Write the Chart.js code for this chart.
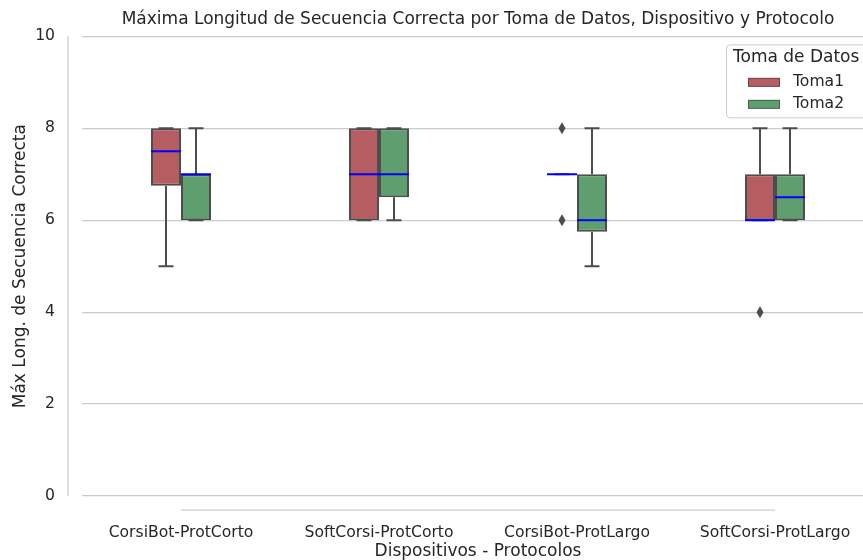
<!DOCTYPE html>
<html>
<head>
<meta charset="utf-8">
<script src="https://cdn.jsdelivr.net/npm/chart.js@4.4.0/dist/chart.umd.min.js"></script>
<style>
  html, body { margin: 0; padding: 0; background: #fff; overflow: hidden; }
  #wrap { position: relative; width: 874px; height: 560px; }
</style>
</head>
<body>
<div id="wrap"><canvas id="boxChart"></canvas></div>
<script>
// datos
const categories = ['CorsiBot-ProtCorto', 'SoftCorsi-ProtCorto', 'CorsiBot-ProtLargo', 'SoftCorsi-ProtLargo'];
const seriesLabels = ['Toma1', 'Toma2'];

const toma1Q1 = [6.75, 6, 7, 6];
const toma1Median = [7.5, 7, 7, 6];
const toma1Q3 = [8, 8, 7, 7];
const toma1Min = [5, 6, 7, 6];
const toma1Max = [8, 8, 7, 8];
const toma1Outliers = [[], [], [6, 8], [4]];

const toma2Q1 = [6, 6.5, 5.75, 6];
const toma2Median = [7, 7, 6, 6.5];
const toma2Q3 = [7, 8, 7, 7];
const toma2Min = [6, 6, 5, 6];
const toma2Max = [8, 8, 8, 8];
const toma2Outliers = [[], [], [], []];

const yTicks = [0, 2, 4, 6, 8, 10];

const FONT = '"DejaVu Sans", sans-serif';
const TEXT = '#262626';
const EDGE = '#4d4d4d';

const stats = [
    { min: toma1Min, max: toma1Max, median: toma1Median, outliers: toma1Outliers },
    { min: toma2Min, max: toma2Max, median: toma2Median, outliers: toma2Outliers }
];

// bigotes, medianas, atipicos y ejes "despine"
const boxExtras = {
    id: 'boxExtras',
    afterDatasetsDraw(chart) {
        const ctx = chart.ctx;
        const xs = chart.scales.x;
        const ys = chart.scales.y;
        const area = chart.chartArea;
        ctx.save();

        ctx.strokeStyle = '#cccccc';
        ctx.lineWidth = 1.25;
        ctx.beginPath();
        ctx.moveTo(area.left - 14, ys.getPixelForValue(yTicks[yTicks.length - 1]));
        ctx.lineTo(area.left - 14, ys.getPixelForValue(yTicks[0]));
        ctx.moveTo(xs.getPixelForValue(0), area.bottom + 14);
        ctx.lineTo(xs.getPixelForValue(categories.length - 1), area.bottom + 14);
        ctx.stroke();

        stats.forEach((s, di) => {
            const meta = chart.getDatasetMeta(di);
            const q = chart.data.datasets[di].data;
            meta.data.forEach((bar, i) => {
                const { x, width } = bar.getProps(['x', 'width'], true);
                const half = width / 2;
                const pMin = ys.getPixelForValue(s.min[i]);
                const pMax = ys.getPixelForValue(s.max[i]);
                const pQ1 = ys.getPixelForValue(q[i][0]);
                const pQ3 = ys.getPixelForValue(q[i][1]);

                ctx.strokeStyle = EDGE;
                ctx.lineWidth = 2;
                ctx.beginPath();
                ctx.moveTo(x, pQ3); ctx.lineTo(x, pMax);
                ctx.moveTo(x, pQ1); ctx.lineTo(x, pMin);
                ctx.moveTo(x - half / 2, pMax); ctx.lineTo(x + half / 2, pMax);
                ctx.moveTo(x - half / 2, pMin); ctx.lineTo(x + half / 2, pMin);
                ctx.stroke();

                // mediana
                const pMed = ys.getPixelForValue(s.median[i]);
                ctx.strokeStyle = '#0000ff';
                ctx.beginPath();
                ctx.moveTo(x - half, pMed); ctx.lineTo(x + half, pMed);
                ctx.stroke();

                // atipicos (diamante)
                ctx.fillStyle = EDGE;
                s.outliers[i].forEach(v => {
                    const py = ys.getPixelForValue(v);
                    ctx.beginPath();
                    ctx.moveTo(x, py - 6);
                    ctx.lineTo(x + 3.5, py);
                    ctx.lineTo(x, py + 6);
                    ctx.lineTo(x - 3.5, py);
                    ctx.closePath();
                    ctx.fill();
                });
            });
        });
        ctx.restore();
    }
};

// leyenda dentro del area, arriba a la derecha
const boxLegend = {
    id: 'boxLegend',
    afterDraw(chart) {
        const ctx = chart.ctx;
        const area = chart.chartArea;
        const left = area.left + 644;
        const top = area.top + 8;
        ctx.save();
        ctx.fillStyle = 'rgba(255,255,255,0.8)';
        ctx.strokeStyle = '#cccccc';
        ctx.lineWidth = 1;
        ctx.beginPath();
        ctx.roundRect(left + 0.5, top + 0.5, 170, 73, 4);
        ctx.fill();
        ctx.stroke();

        ctx.textBaseline = 'middle';
        ctx.textAlign = 'left';
        ctx.fillStyle = TEXT;
        ctx.font = '17px ' + FONT;
        ctx.fillText('Toma de Datos', left + 7, top + 13);

        ctx.font = '15.6px ' + FONT;
        chart.data.datasets.forEach((ds, i) => {
            const ry = top + 38 + i * 22;
            ctx.fillStyle = ds.backgroundColor;
            ctx.fillRect(left + 22, ry - 4.5, 32, 9);
            ctx.strokeStyle = 'rgba(60,60,60,0.6)';
            ctx.strokeRect(left + 22.5, ry - 4, 31, 8);
            ctx.fillStyle = TEXT;
            ctx.fillText(ds.label, left + 67, ry);
        });
        ctx.restore();
    }
};

new Chart(document.getElementById('boxChart'), {
    type: 'bar',
    data: {
        labels: categories,
        datasets: [
            {
                label: seriesLabels[0],
                data: toma1Q1.map((v, i) => [v, toma1Q3[i]]),
                backgroundColor: '#b55d60',
                borderColor: EDGE,
                borderWidth: 2,
                borderSkipped: false
            },
            {
                label: seriesLabels[1],
                data: toma2Q1.map((v, i) => [v, toma2Q3[i]]),
                backgroundColor: '#5f9e6e',
                borderColor: EDGE,
                borderWidth: 2,
                borderSkipped: false
            }
        ]
    },
    options: {
        responsive: true,
        maintainAspectRatio: false,
        animation: false,
        layout: { padding: 0 },
        categoryPercentage: 60 / 198,
        barPercentage: 1,
        plugins: {
            legend: { display: false },
            tooltip: { enabled: false },
            title: {
                display: true,
                fullSize: false,
                text: 'Máxima Longitud de Secuencia Correcta por Toma de Datos, Dispositivo y Protocolo',
                color: TEXT,
                font: { family: FONT, size: 17, weight: 'normal' },
                padding: { top: 6.8, bottom: 6.8 }
            }
        },
        scales: {
            x: {
                grid: { display: false },
                border: { display: false },
                ticks: { color: TEXT, font: { family: FONT, size: 15.6 }, padding: 20, maxRotation: 0 },
                title: {
                    display: true,
                    text: 'Dispositivos - Protocolos',
                    color: TEXT,
                    font: { family: FONT, size: 17 },
                    padding: { top: 0, bottom: -1.5 }
                },
                afterFit: (scale) => { scale.height = 64; }
            },
            y: {
                min: yTicks[0],
                max: yTicks[yTicks.length - 1],
                afterBuildTicks: (scale) => { scale.ticks = yTicks.map(v => ({ value: v })); },
                grid: { color: '#cccccc', lineWidth: 1.2, drawTicks: false },
                border: { display: false },
                ticks: { color: TEXT, font: { family: FONT, size: 15.6 }, padding: 27 },
                title: {
                    display: true,
                    text: 'Máx Long. de Secuencia Correcta',
                    color: TEXT,
                    font: { family: FONT, size: 17 },
                    padding: { top: 10, bottom: 0 }
                },
                afterFit: (scale) => { scale.width = 82; }
            }
        }
    },
    plugins: [boxExtras, boxLegend]
});
</script>
</body>
</html>
